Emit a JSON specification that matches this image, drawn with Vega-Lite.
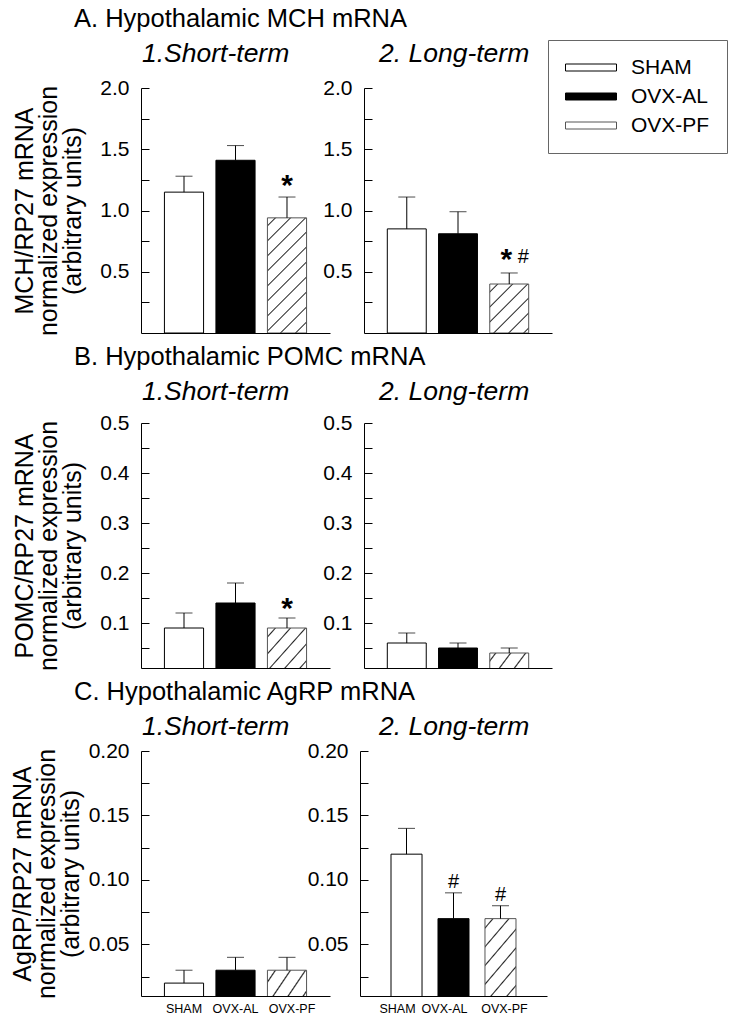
{
  "$schema": "https://vega.github.io/schema/vega-lite/v6.json",
  "padding": {"left": 10, "top": 6, "right": 2, "bottom": 2},
  "datasets": {
    "d": [
      {"gene": "MCH", "term": "short", "group": "SHAM", "mean": 1.15, "upper": 1.28},
      {"gene": "MCH", "term": "short", "group": "OVX-AL", "mean": 1.41, "upper": 1.53},
      {"gene": "MCH", "term": "short", "group": "OVX-PF", "mean": 0.94, "upper": 1.11, "star": "*"},
      {"gene": "MCH", "term": "long", "group": "SHAM", "mean": 0.85, "upper": 1.11},
      {"gene": "MCH", "term": "long", "group": "OVX-AL", "mean": 0.81, "upper": 0.99},
      {"gene": "MCH", "term": "long", "group": "OVX-PF", "mean": 0.40, "upper": 0.49, "star": "*", "hash": "#"},
      {"gene": "POMC", "term": "short", "group": "SHAM", "mean": 0.09, "upper": 0.12},
      {"gene": "POMC", "term": "short", "group": "OVX-AL", "mean": 0.14, "upper": 0.18},
      {"gene": "POMC", "term": "short", "group": "OVX-PF", "mean": 0.09, "upper": 0.11, "star": "*"},
      {"gene": "POMC", "term": "long", "group": "SHAM", "mean": 0.06, "upper": 0.08},
      {"gene": "POMC", "term": "long", "group": "OVX-AL", "mean": 0.05, "upper": 0.06},
      {"gene": "POMC", "term": "long", "group": "OVX-PF", "mean": 0.04, "upper": 0.05},
      {"gene": "AgRP", "term": "short", "group": "SHAM", "mean": 0.02, "upper": 0.03},
      {"gene": "AgRP", "term": "short", "group": "OVX-AL", "mean": 0.03, "upper": 0.04},
      {"gene": "AgRP", "term": "short", "group": "OVX-PF", "mean": 0.03, "upper": 0.04},
      {"gene": "AgRP", "term": "long", "group": "SHAM", "mean": 0.12, "upper": 0.14},
      {"gene": "AgRP", "term": "long", "group": "OVX-AL", "mean": 0.07, "upper": 0.09, "hash": "#"},
      {"gene": "AgRP", "term": "long", "group": "OVX-PF", "mean": 0.07, "upper": 0.08, "hash": "#"}
    ]
  },
  "spacing": 8,
  "resolve": {"scale": {"x": "independent", "y": "independent", "fill": "shared"}},
  "vconcat": [
    {
      "title": {"text": "A. Hypothalamic MCH mRNA", "anchor": "start", "frame": "group", "dx": -67, "fontSize": 25.5, "baseline": "alphabetic", "offset": -11},
      "bounds": "flush",
      "spacing": 34,
      "resolve": {"scale": {"x": "independent", "y": "independent", "fill": "shared"}},
      "hconcat": [
        {
          "width": 189, "height": 245,
          "title": {"text": "1.Short-term", "anchor": "start", "frame": "group", "dx": 1, "fontStyle": "italic", "fontSize": 26.5, "baseline": "alphabetic", "offset": -11.5},
          "data": {"name": "d"},
          "transform": [{"filter": "datum.gene == 'MCH' && datum.term == 'short'"}],
          "encoding": {"x": {"field": "group", "type": "nominal", "sort": null, "scale": {"domain": ["SHAM", "OVX-AL", "OVX-PF"], "paddingInner": 0.24, "paddingOuter": 0.455}, "axis": {"title": null, "labels": false, "ticks": false}}},
          "layer": [
            {"transform": [{"filter": "datum.group != 'OVX-PF'"}], "mark": {"type": "bar", "stroke": "black", "strokeWidth": 1, "clip": true},
             "encoding": {
               "y": {"field": "mean", "type": "quantitative", "scale": {"domain": [0, 2], "nice": false, "zero": false}, "axis": {"title": ["MCH/RP27 mRNA", "normalized expression", "(arbitrary units)"], "titlePadding": 14, "tickCount": 20, "values": [0.25, 0.5, 0.75, 1, 1.25, 1.5, 1.75, 2], "format": ".1f", "labelExpr": "round(datum.value*4) % 2 == 0 ? datum.label : ''"}},
               "fill": {"field": "group", "type": "nominal", "scale": {"domain": ["SHAM", "OVX-AL", "OVX-PF"], "range": ["white", "black", "white"]},
                 "legend": {"title": null, "encode": {"symbols": {"update": {"stroke": {"signal": "datum.value === 'OVX-PF' ? '#555' : 'black'"}, "fill": {"signal": "datum.value === 'SHAM' ? 'white' : datum.value === 'OVX-AL' ? 'black' : {gradient: 'linear', x1: 0, y1: 0, x2: 1.1852, y2: 0.3254, stops: [{offset: 0, color: 'white'}, {offset: 0.1016, color: 'white'}, {offset: 0.1231, color: '#222'}, {offset: 0.1446, color: 'white'}, {offset: 0.3477, color: 'white'}, {offset: 0.3692, color: '#222'}, {offset: 0.3907, color: 'white'}, {offset: 0.5939, color: 'white'}, {offset: 0.6154, color: '#222'}, {offset: 0.6369, color: 'white'}, {offset: 0.84, color: 'white'}, {offset: 0.8615, color: '#222'}, {offset: 0.883, color: 'white'}, {offset: 1, color: 'white'}]}"}}}}}}
             }},
            {"transform": [{"filter": "datum.group == 'OVX-PF'"}], "mark": {"type": "bar", "stroke": "#555", "strokeWidth": 1, "clip": true, "fill": {"gradient": "linear", "x1": 0, "y1": 0, "x2": 0.4073, "y2": 1.201, "stops": [{"offset": 0, "color": "white"}, {"offset": 0.0428, "color": "white"}, {"offset": 0.0519, "color": "#222"}, {"offset": 0.061, "color": "white"}, {"offset": 0.1403, "color": "white"}, {"offset": 0.1494, "color": "#222"}, {"offset": 0.1585, "color": "white"}, {"offset": 0.2377, "color": "white"}, {"offset": 0.2468, "color": "#222"}, {"offset": 0.2559, "color": "white"}, {"offset": 0.3351, "color": "white"}, {"offset": 0.3442, "color": "#222"}, {"offset": 0.3533, "color": "white"}, {"offset": 0.4325, "color": "white"}, {"offset": 0.4416, "color": "#222"}, {"offset": 0.4507, "color": "white"}, {"offset": 0.5299, "color": "white"}, {"offset": 0.539, "color": "#222"}, {"offset": 0.5481, "color": "white"}, {"offset": 0.6273, "color": "white"}, {"offset": 0.6364, "color": "#222"}, {"offset": 0.6455, "color": "white"}, {"offset": 0.7247, "color": "white"}, {"offset": 0.7338, "color": "#222"}, {"offset": 0.7429, "color": "white"}, {"offset": 0.8221, "color": "white"}, {"offset": 0.8312, "color": "#222"}, {"offset": 0.8403, "color": "white"}, {"offset": 0.9195, "color": "white"}, {"offset": 0.9286, "color": "#222"}, {"offset": 0.9377, "color": "white"}, {"offset": 1, "color": "white"}]}},
             "encoding": {"y": {"field": "mean", "type": "quantitative", "scale": {"domain": [0, 2], "nice": false, "zero": false}}}},
            {"mark": {"type": "rule", "color": "black", "strokeWidth": 1},
             "encoding": {"y": {"field": "mean", "type": "quantitative", "scale": {"domain": [0, 2], "nice": false, "zero": false}}, "y2": {"field": "upper"}}},
            {"mark": {"type": "tick", "color": "black", "thickness": 1, "size": 17, "orient": "horizontal"},
             "encoding": {"y": {"field": "upper", "type": "quantitative", "scale": {"domain": [0, 2], "nice": false, "zero": false}}}},
            {"transform": [{"filter": "datum.star"}], "mark": {"type": "text", "fontSize": 30, "fontWeight": "bold", "baseline": "alphabetic", "dy": -2, "color": "black"},
             "encoding": {"y": {"field": "upper", "type": "quantitative", "scale": {"domain": [0, 2], "nice": false, "zero": false}}, "text": {"field": "star"}}}
          ]
        },
        {
          "width": 188, "height": 245,
          "title": {"text": "2. Long-term", "anchor": "start", "frame": "group", "dx": 15, "fontStyle": "italic", "fontSize": 26.5, "baseline": "alphabetic", "offset": -11.5},
          "data": {"name": "d"},
          "transform": [{"filter": "datum.gene == 'MCH' && datum.term == 'long'"}],
          "encoding": {"x": {"field": "group", "type": "nominal", "sort": null, "scale": {"domain": ["SHAM", "OVX-AL", "OVX-PF"], "paddingInner": 0.24, "paddingOuter": 0.455}, "axis": {"title": null, "labels": false, "ticks": false}}},
          "layer": [
            {"transform": [{"filter": "datum.group != 'OVX-PF'"}], "mark": {"type": "bar", "stroke": "black", "strokeWidth": 1, "clip": true},
             "encoding": {
               "y": {"field": "mean", "type": "quantitative", "scale": {"domain": [0, 2], "nice": false, "zero": false}, "axis": {"title": null, "tickCount": 20, "values": [0.25, 0.5, 0.75, 1, 1.25, 1.5, 1.75, 2], "format": ".1f", "labelExpr": "round(datum.value*4) % 2 == 0 ? datum.label : ''"}},
               "fill": {"field": "group", "type": "nominal", "scale": {"domain": ["SHAM", "OVX-AL", "OVX-PF"], "range": ["white", "black", "white"]}, "legend": null}
             }},
            {"transform": [{"filter": "datum.group == 'OVX-PF'"}], "mark": {"type": "bar", "stroke": "#555", "strokeWidth": 1, "clip": true, "fill": {"gradient": "linear", "x1": 0, "y1": 0, "x2": 0.875, "y2": 1.0994, "stops": [{"offset": 0, "color": "white"}, {"offset": 0.075, "color": "white"}, {"offset": 0.0909, "color": "#222"}, {"offset": 0.1068, "color": "white"}, {"offset": 0.2455, "color": "white"}, {"offset": 0.2614, "color": "#222"}, {"offset": 0.2773, "color": "white"}, {"offset": 0.4159, "color": "white"}, {"offset": 0.4318, "color": "#222"}, {"offset": 0.4477, "color": "white"}, {"offset": 0.5864, "color": "white"}, {"offset": 0.6023, "color": "#222"}, {"offset": 0.6182, "color": "white"}, {"offset": 0.7568, "color": "white"}, {"offset": 0.7727, "color": "#222"}, {"offset": 0.7886, "color": "white"}, {"offset": 0.9273, "color": "white"}, {"offset": 0.9432, "color": "#222"}, {"offset": 0.9591, "color": "white"}, {"offset": 1, "color": "white"}]}},
             "encoding": {"y": {"field": "mean", "type": "quantitative", "scale": {"domain": [0, 2], "nice": false, "zero": false}}}},
            {"mark": {"type": "rule", "color": "black", "strokeWidth": 1},
             "encoding": {"y": {"field": "mean", "type": "quantitative", "scale": {"domain": [0, 2], "nice": false, "zero": false}}, "y2": {"field": "upper"}}},
            {"mark": {"type": "tick", "color": "black", "thickness": 1, "size": 17, "orient": "horizontal"},
             "encoding": {"y": {"field": "upper", "type": "quantitative", "scale": {"domain": [0, 2], "nice": false, "zero": false}}}},
            {"transform": [{"filter": "datum.star"}], "mark": {"type": "text", "fontSize": 30, "fontWeight": "bold", "baseline": "alphabetic", "dy": -4, "dx": -3, "color": "black"},
             "encoding": {"y": {"field": "upper", "type": "quantitative", "scale": {"domain": [0, 2], "nice": false, "zero": false}}, "text": {"field": "star"}}},
            {"transform": [{"filter": "datum.hash"}], "mark": {"type": "text", "fontSize": 20, "baseline": "alphabetic", "dy": -10, "dx": 14, "color": "black"},
             "encoding": {"y": {"field": "upper", "type": "quantitative", "scale": {"domain": [0, 2], "nice": false, "zero": false}}, "text": {"field": "hash"}}}
          ]
        }
      ]
    },
    {
      "title": {"text": "B. Hypothalamic POMC mRNA", "anchor": "start", "frame": "group", "dx": -67, "fontSize": 25.5, "baseline": "alphabetic", "offset": -11},
      "bounds": "flush",
      "spacing": 34,
      "resolve": {"scale": {"x": "independent", "y": "independent", "fill": "shared"}},
      "hconcat": [
        {
          "width": 189, "height": 245,
          "title": {"text": "1.Short-term", "anchor": "start", "frame": "group", "dx": 1, "fontStyle": "italic", "fontSize": 26.5, "baseline": "alphabetic", "offset": -14.7},
          "data": {"name": "d"},
          "transform": [{"filter": "datum.gene == 'POMC' && datum.term == 'short'"}],
          "encoding": {"x": {"field": "group", "type": "nominal", "sort": null, "scale": {"domain": ["SHAM", "OVX-AL", "OVX-PF"], "paddingInner": 0.24, "paddingOuter": 0.455}, "axis": {"title": null, "labels": false, "ticks": false}}},
          "layer": [
            {"transform": [{"filter": "datum.group != 'OVX-PF'"}], "mark": {"type": "bar", "stroke": "black", "strokeWidth": 1, "clip": true},
             "encoding": {
               "y": {"field": "mean", "type": "quantitative", "scale": {"domain": [0.01, 0.5], "nice": false, "zero": false}, "axis": {"title": ["POMC/RP27 mRNA", "normalized expression", "(arbitrary units)"], "titlePadding": 14, "tickCount": 20, "values": [0.05, 0.1, 0.15, 0.2, 0.25, 0.3, 0.35, 0.4, 0.45, 0.5], "format": ".1f", "labelExpr": "round(datum.value*20) % 2 == 0 ? datum.label : ''"}},
               "fill": {"field": "group", "type": "nominal", "scale": {"domain": ["SHAM", "OVX-AL", "OVX-PF"], "range": ["white", "black", "white"]}, "legend": null}
             }},
            {"transform": [{"filter": "datum.group == 'OVX-PF'"}], "mark": {"type": "bar", "stroke": "#555", "strokeWidth": 1, "clip": true, "fill": {"gradient": "linear", "x1": 0, "y1": 0, "x2": 0.9872, "y2": 1.0125, "stops": [{"offset": 0, "color": "white"}, {"offset": 0.0836, "color": "white"}, {"offset": 0.1013, "color": "#222"}, {"offset": 0.119, "color": "white"}, {"offset": 0.2734, "color": "white"}, {"offset": 0.2911, "color": "#222"}, {"offset": 0.3088, "color": "white"}, {"offset": 0.4633, "color": "white"}, {"offset": 0.481, "color": "#222"}, {"offset": 0.4987, "color": "white"}, {"offset": 0.6532, "color": "white"}, {"offset": 0.6709, "color": "#222"}, {"offset": 0.6886, "color": "white"}, {"offset": 0.8431, "color": "white"}, {"offset": 0.8608, "color": "#222"}, {"offset": 0.8785, "color": "white"}, {"offset": 1, "color": "white"}]}},
             "encoding": {"y": {"field": "mean", "type": "quantitative", "scale": {"domain": [0.01, 0.5], "nice": false, "zero": false}}}},
            {"mark": {"type": "rule", "color": "black", "strokeWidth": 1},
             "encoding": {"y": {"field": "mean", "type": "quantitative", "scale": {"domain": [0.01, 0.5], "nice": false, "zero": false}}, "y2": {"field": "upper"}}},
            {"mark": {"type": "tick", "color": "black", "thickness": 1, "size": 17, "orient": "horizontal"},
             "encoding": {"y": {"field": "upper", "type": "quantitative", "scale": {"domain": [0.01, 0.5], "nice": false, "zero": false}}}},
            {"transform": [{"filter": "datum.star"}], "mark": {"type": "text", "fontSize": 30, "fontWeight": "bold", "baseline": "alphabetic", "dy": 0, "color": "black"},
             "encoding": {"y": {"field": "upper", "type": "quantitative", "scale": {"domain": [0.01, 0.5], "nice": false, "zero": false}}, "text": {"field": "star"}}}
          ]
        },
        {
          "width": 188, "height": 245,
          "title": {"text": "2. Long-term", "anchor": "start", "frame": "group", "dx": 15, "fontStyle": "italic", "fontSize": 26.5, "baseline": "alphabetic", "offset": -14.7},
          "data": {"name": "d"},
          "transform": [{"filter": "datum.gene == 'POMC' && datum.term == 'long'"}],
          "encoding": {"x": {"field": "group", "type": "nominal", "sort": null, "scale": {"domain": ["SHAM", "OVX-AL", "OVX-PF"], "paddingInner": 0.24, "paddingOuter": 0.455}, "axis": {"title": null, "labels": false, "ticks": false}}},
          "layer": [
            {"transform": [{"filter": "datum.group != 'OVX-PF'"}], "mark": {"type": "bar", "stroke": "black", "strokeWidth": 1, "clip": true},
             "encoding": {
               "y": {"field": "mean", "type": "quantitative", "scale": {"domain": [0.01, 0.5], "nice": false, "zero": false}, "axis": {"title": null, "tickCount": 20, "values": [0.05, 0.1, 0.15, 0.2, 0.25, 0.3, 0.35, 0.4, 0.45, 0.5], "format": ".1f", "labelExpr": "round(datum.value*20) % 2 == 0 ? datum.label : ''"}},
               "fill": {"field": "group", "type": "nominal", "scale": {"domain": ["SHAM", "OVX-AL", "OVX-PF"], "range": ["white", "black", "white"]}, "legend": null}
             }},
            {"transform": [{"filter": "datum.group == 'OVX-PF'"}], "mark": {"type": "bar", "stroke": "#555", "strokeWidth": 1, "clip": true, "fill": {"gradient": "linear", "x1": 0, "y1": 0, "x2": 1.2062, "y2": 0.4639, "stops": [{"offset": 0, "color": "white"}, {"offset": 0.0852, "color": "white"}, {"offset": 0.1111, "color": "#222"}, {"offset": 0.137, "color": "white"}, {"offset": 0.363, "color": "white"}, {"offset": 0.3889, "color": "#222"}, {"offset": 0.4148, "color": "white"}, {"offset": 0.6408, "color": "white"}, {"offset": 0.6667, "color": "#222"}, {"offset": 0.6926, "color": "white"}, {"offset": 0.9185, "color": "white"}, {"offset": 0.9444, "color": "#222"}, {"offset": 0.9703, "color": "white"}, {"offset": 1, "color": "white"}]}},
             "encoding": {"y": {"field": "mean", "type": "quantitative", "scale": {"domain": [0.01, 0.5], "nice": false, "zero": false}}}},
            {"mark": {"type": "rule", "color": "black", "strokeWidth": 1},
             "encoding": {"y": {"field": "mean", "type": "quantitative", "scale": {"domain": [0.01, 0.5], "nice": false, "zero": false}}, "y2": {"field": "upper"}}},
            {"mark": {"type": "tick", "color": "black", "thickness": 1, "size": 17, "orient": "horizontal"},
             "encoding": {"y": {"field": "upper", "type": "quantitative", "scale": {"domain": [0.01, 0.5], "nice": false, "zero": false}}}}
          ]
        }
      ]
    },
    {
      "title": {"text": "C. Hypothalamic AgRP mRNA", "anchor": "start", "frame": "group", "dx": -67, "fontSize": 25.5, "baseline": "alphabetic", "offset": -11},
      "bounds": "flush",
      "spacing": 30,
      "resolve": {"scale": {"x": "independent", "y": "independent", "fill": "shared"}},
      "hconcat": [
        {
          "width": 189, "height": 245,
          "title": {"text": "1.Short-term", "anchor": "start", "frame": "group", "dx": 1, "fontStyle": "italic", "fontSize": 26.5, "baseline": "alphabetic", "offset": -21.5},
          "data": {"name": "d"},
          "transform": [{"filter": "datum.gene == 'AgRP' && datum.term == 'short'"}],
          "encoding": {"x": {"field": "group", "type": "nominal", "sort": null, "scale": {"domain": ["SHAM", "OVX-AL", "OVX-PF"], "paddingInner": 0.24, "paddingOuter": 0.455}, "axis": {"title": null, "ticks": false, "labelAngle": 0, "labelOffset": {"condition": {"test": "datum.value == 'OVX-PF'", "value": 5}, "value": 0}}}},
          "layer": [
            {"transform": [{"filter": "datum.group != 'OVX-PF'"}], "mark": {"type": "bar", "stroke": "black", "strokeWidth": 1, "clip": true},
             "encoding": {
               "y": {"field": "mean", "type": "quantitative", "scale": {"domain": [0.01, 0.2], "nice": false, "zero": false}, "axis": {"title": ["AgRP/RP27 mRNA", "normalized expression", "(arbitrary units)"], "titlePadding": 5, "tickCount": 20, "values": [0.025, 0.05, 0.075, 0.1, 0.125, 0.15, 0.175, 0.2], "format": ".2f", "labelExpr": "round(datum.value*40) % 2 == 0 ? datum.label : ''"}},
               "fill": {"field": "group", "type": "nominal", "scale": {"domain": ["SHAM", "OVX-AL", "OVX-PF"], "range": ["white", "black", "white"]}, "legend": null}
             }},
            {"transform": [{"filter": "datum.group == 'OVX-PF'"}], "mark": {"type": "bar", "stroke": "#555", "strokeWidth": 1, "clip": true, "fill": {"gradient": "linear", "x1": 0, "y1": 0, "x2": 1.1538, "y2": 0.7692, "stops": [{"offset": 0, "color": "white"}, {"offset": 0.1016, "color": "white"}, {"offset": 0.1231, "color": "#222"}, {"offset": 0.1446, "color": "white"}, {"offset": 0.3323, "color": "white"}, {"offset": 0.3538, "color": "#222"}, {"offset": 0.3753, "color": "white"}, {"offset": 0.5631, "color": "white"}, {"offset": 0.5846, "color": "#222"}, {"offset": 0.6061, "color": "white"}, {"offset": 0.7939, "color": "white"}, {"offset": 0.8154, "color": "#222"}, {"offset": 0.8369, "color": "white"}, {"offset": 1, "color": "white"}]}},
             "encoding": {"y": {"field": "mean", "type": "quantitative", "scale": {"domain": [0.01, 0.2], "nice": false, "zero": false}}}},
            {"mark": {"type": "rule", "color": "black", "strokeWidth": 1},
             "encoding": {"y": {"field": "mean", "type": "quantitative", "scale": {"domain": [0.01, 0.2], "nice": false, "zero": false}}, "y2": {"field": "upper"}}},
            {"mark": {"type": "tick", "color": "black", "thickness": 1, "size": 17, "orient": "horizontal"},
             "encoding": {"y": {"field": "upper", "type": "quantitative", "scale": {"domain": [0.01, 0.2], "nice": false, "zero": false}}}}
          ]
        },
        {
          "width": 187, "height": 245,
          "title": {"text": "2. Long-term", "anchor": "start", "frame": "group", "dx": 19, "fontStyle": "italic", "fontSize": 26.5, "baseline": "alphabetic", "offset": -21.5},
          "data": {"name": "d"},
          "transform": [{"filter": "datum.gene == 'AgRP' && datum.term == 'long'"}],
          "encoding": {"x": {"field": "group", "type": "nominal", "sort": null, "scale": {"domain": ["SHAM", "OVX-AL", "OVX-PF"], "paddingInner": 0.34, "paddingOuter": 0.66}, "axis": {"title": null, "ticks": false, "labelAngle": 0, "labelOffset": {"condition": {"test": "datum.value == 'OVX-PF'", "value": 4}, "value": -9}}}},
          "layer": [
            {"transform": [{"filter": "datum.group != 'OVX-PF'"}], "mark": {"type": "bar", "stroke": "black", "strokeWidth": 1, "clip": true},
             "encoding": {
               "y": {"field": "mean", "type": "quantitative", "scale": {"domain": [0.01, 0.2], "nice": false, "zero": false}, "axis": {"title": null, "tickCount": 20, "values": [0.025, 0.05, 0.075, 0.1, 0.125, 0.15, 0.175, 0.2], "format": ".2f", "labelExpr": "round(datum.value*40) % 2 == 0 ? datum.label : ''"}},
               "fill": {"field": "group", "type": "nominal", "scale": {"domain": ["SHAM", "OVX-AL", "OVX-PF"], "range": ["white", "black", "white"]}, "legend": null}
             }},
            {"transform": [{"filter": "datum.group == 'OVX-PF'"}], "mark": {"type": "bar", "stroke": "#555", "strokeWidth": 1, "clip": true, "fill": {"gradient": "linear", "x1": 0, "y1": 0, "x2": 0.4859, "y2": 1.2069, "stops": [{"offset": 0, "color": "white"}, {"offset": 0.0611, "color": "white"}, {"offset": 0.0741, "color": "#222"}, {"offset": 0.0871, "color": "white"}, {"offset": 0.2092, "color": "white"}, {"offset": 0.2222, "color": "#222"}, {"offset": 0.2352, "color": "white"}, {"offset": 0.3574, "color": "white"}, {"offset": 0.3704, "color": "#222"}, {"offset": 0.3834, "color": "white"}, {"offset": 0.5055, "color": "white"}, {"offset": 0.5185, "color": "#222"}, {"offset": 0.5315, "color": "white"}, {"offset": 0.6537, "color": "white"}, {"offset": 0.6667, "color": "#222"}, {"offset": 0.6797, "color": "white"}, {"offset": 0.8018, "color": "white"}, {"offset": 0.8148, "color": "#222"}, {"offset": 0.8278, "color": "white"}, {"offset": 0.95, "color": "white"}, {"offset": 0.963, "color": "#222"}, {"offset": 0.976, "color": "white"}, {"offset": 1, "color": "white"}]}},
             "encoding": {"y": {"field": "mean", "type": "quantitative", "scale": {"domain": [0.01, 0.2], "nice": false, "zero": false}}}},
            {"mark": {"type": "rule", "color": "black", "strokeWidth": 1},
             "encoding": {"y": {"field": "mean", "type": "quantitative", "scale": {"domain": [0.01, 0.2], "nice": false, "zero": false}}, "y2": {"field": "upper"}}},
            {"mark": {"type": "tick", "color": "black", "thickness": 1, "size": 17, "orient": "horizontal"},
             "encoding": {"y": {"field": "upper", "type": "quantitative", "scale": {"domain": [0.01, 0.2], "nice": false, "zero": false}}}},
            {"transform": [{"filter": "datum.hash"}], "mark": {"type": "text", "fontSize": 20, "baseline": "alphabetic", "dy": -5, "color": "black"},
             "encoding": {"y": {"field": "upper", "type": "quantitative", "scale": {"domain": [0.01, 0.2], "nice": false, "zero": false}}, "text": {"field": "hash"}}}
          ]
        }
      ]
    }
  ],
  "config": {
    "font": "Liberation Sans",
    "view": {"stroke": null},
    "title": {"color": "black", "fontWeight": "normal", "font": "Liberation Sans"},
    "axis": {"domainColor": "black", "domainWidth": 1, "tickColor": "black", "tickWidth": 1, "labelColor": "black", "titleColor": "black", "grid": false, "labelFont": "Liberation Sans", "titleFont": "Liberation Sans"},
    "axisY": {"tickSize": -8, "labelPadding": 20, "labelFontSize": 21, "labelFlush": false, "labelOverlap": false, "titleFontSize": 25, "titleFontWeight": "normal", "titleLineHeight": 24},
    "axisX": {"labelFontSize": 12.5, "labelPadding": 6, "labelFlush": false},
    "legend": {"orient": "none", "legendX": 407, "legendY": -48, "symbolType": "M-1,-0.35L4.1,-0.35L4.1,0.35L-1,0.35Z", "symbolSize": 400, "symbolStrokeColor": "black", "symbolStrokeWidth": 1, "labelFontSize": 21, "labelColor": "black", "labelFont": "Liberation Sans", "labelOffset": 45, "strokeColor": "#666", "padding": 17, "rowPadding": 7, "fillColor": "white"}
  }
}
